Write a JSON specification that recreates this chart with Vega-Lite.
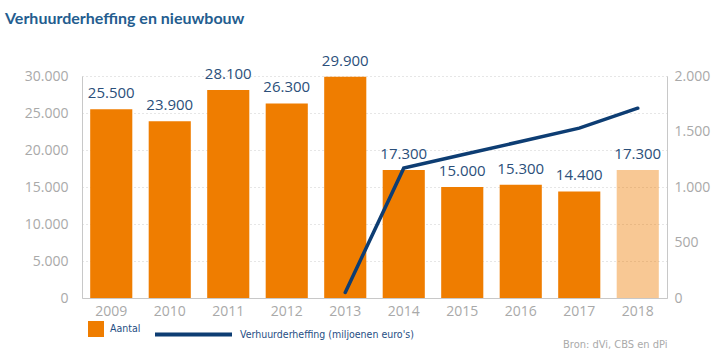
{
  "$schema": "https://vega.github.io/schema/vega-lite/v6.json",
  "width": 585,
  "height": 222,
  "autosize": {"type": "none"},
  "padding": {"left": 82, "top": 76, "right": 58, "bottom": 59},
  "background": "white",
  "config": {
    "locale": {"number": {"decimal": ",", "thousands": ".", "grouping": [3], "currency": ["€", ""]}},
    "view": {"stroke": null},
    "font": "Open Sans"
  },
  "title": {
    "text": "Verhuurderheffing en nieuwbouw",
    "anchor": "start",
    "frame": "group",
    "font": "Lato",
    "fontSize": 16,
    "fontWeight": "bold",
    "color": "#245d8f",
    "dx": -77,
    "offset": 27
  },
  "data": {
    "values": [
      {"year": "2009", "aantal": 25500, "heffing": null},
      {"year": "2010", "aantal": 23900, "heffing": null},
      {"year": "2011", "aantal": 28100, "heffing": null},
      {"year": "2012", "aantal": 26300, "heffing": null},
      {"year": "2013", "aantal": 29900, "heffing": 50},
      {"year": "2014", "aantal": 17300, "heffing": 1170},
      {"year": "2015", "aantal": 15000, "heffing": 1290},
      {"year": "2016", "aantal": 15300, "heffing": 1410},
      {"year": "2017", "aantal": 14400, "heffing": 1530},
      {"year": "2018", "aantal": 17300, "heffing": 1710}
    ]
  },
  "encoding": {
    "x": {
      "field": "year",
      "type": "ordinal",
      "scale": {"paddingInner": 0.28, "paddingOuter": 0.14},
      "axis": {
        "labelAngle": 0,
        "labelFontSize": 14,
        "labelColor": "#a9a9a9",
        "labelPadding": 6,
        "ticks": false,
        "domainColor": "#c8c8c8",
        "grid": false,
        "title": "Bron: dVi, CBS en dPi",
        "titleAnchor": "end",
        "titleAlign": "right",
        "titleBaseline": "middle",
        "titleY": 46,
        "titleFont": "DejaVu Sans Condensed, Open Sans, sans-serif",
        "titleFontSize": 11,
        "titleFontWeight": "normal",
        "titleColor": "#aaaaaa"
      }
    }
  },
  "layer": [
    {
      "encoding": {
        "y": {
          "field": "aantal",
          "type": "quantitative",
          "scale": {"domain": [0, 30000]},
          "axis": {
            "title": null,
            "values": [0, 5000, 10000, 15000, 20000, 25000, 30000],
            "format": ",d",
            "labelFontSize": 14,
            "labelColor": "#a9a9a9",
            "labelPadding": 14,
            "ticks": false,
            "domainColor": "#c8c8c8",
            "grid": true,
            "gridColor": "#cccccc",
            "gridDash": [1, 3],
            "gridWidth": 1
          }
        }
      },
      "layer": [
        {
          "mark": {"type": "bar"},
          "encoding": {
            "fill": {
              "datum": "Aantal",
              "scale": {"range": ["#ef7d00"]},
              "legend": {
                "orient": "none",
                "legendX": 6,
                "legendY": 245,
                "padding": 0,
                "title": null,
                "symbolType": "square",
                "symbolSize": 256,
                "symbolOpacity": 1,
                "symbolStrokeWidth": 0,
                "labelFont": "DejaVu Sans Condensed, Open Sans, sans-serif",
                "labelFontSize": 10.5,
                "labelColor": "#1f4e84",
                "labelOffset": 6,
                "labelLimit": 0
              }
            },
            "opacity": {
              "condition": {"test": "datum.year === '2018'", "value": 0.42},
              "value": 1
            }
          }
        },
        {
          "mark": {"type": "text", "baseline": "bottom", "dy": -8, "fontSize": 15, "color": "#2b4f7a"},
          "encoding": {
            "text": {"field": "aantal", "type": "quantitative", "format": ",d"}
          }
        }
      ]
    },
    {
      "transform": [{"filter": "datum.heffing != null"}],
      "mark": {"type": "line", "strokeWidth": 3.5, "strokeCap": "round"},
      "encoding": {
        "y": {
          "field": "heffing",
          "type": "quantitative",
          "scale": {"domain": [0, 2000]},
          "axis": {
            "orient": "right",
            "title": null,
            "values": [0, 500, 1000, 1500, 2000],
            "format": ",d",
            "labelFontSize": 14,
            "labelColor": "#a9a9a9",
            "labelPadding": 7,
            "ticks": false,
            "domainColor": "#c8c8c8",
            "grid": false
          }
        },
        "stroke": {
          "datum": "Verhuurderheffing (miljoenen euro's)",
          "scale": {"range": ["#0d3d73"]},
          "legend": {
            "orient": "none",
            "legendX": 71,
            "legendY": 218,
            "padding": 0,
            "title": null,
            "symbolType": "stroke",
            "symbolSize": 5929,
            "symbolStrokeWidth": 4,
            "labelFont": "DejaVu Sans Condensed, Open Sans, sans-serif",
            "labelFontSize": 10.5,
            "labelColor": "#1f4e84",
            "labelOffset": 6,
            "labelLimit": 0
          }
        }
      }
    }
  ],
  "resolve": {"scale": {"y": "independent", "fill": "independent", "stroke": "independent"}}
}
